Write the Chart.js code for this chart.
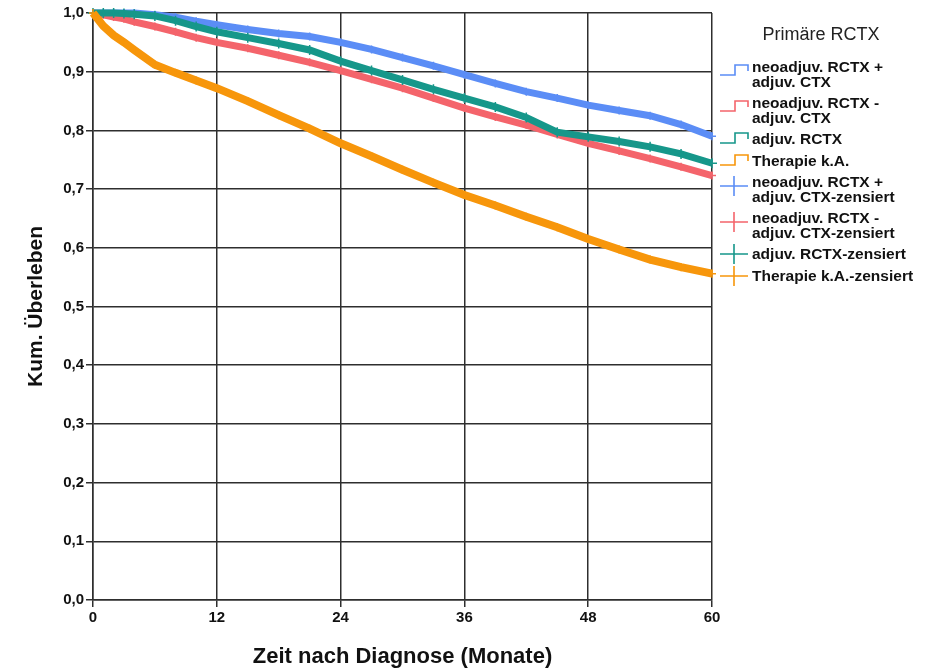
<!DOCTYPE html>
<html lang="de">
<head>
<meta charset="utf-8">
<title>Kum. Überleben nach Primäre RCTX</title>
<script src="https://cdn.jsdelivr.net/npm/chart.js@4.4.0/dist/chart.umd.min.js"></script>
<style>
  html,body{margin:0;padding:0;background:#fff;}
  #wrap{position:relative;width:935px;height:670px;}
  #legtitle{position:absolute;left:718px;top:24px;width:206px;text-align:center;
    font:18px "Liberation Sans",Arial,sans-serif;color:#222;line-height:20px;}
  #legend{position:absolute;left:718px;top:60px;width:217px;
    font:bold 15.5px "Liberation Sans",Arial,sans-serif;color:#111;}
  .item{position:relative;padding-left:34px;line-height:14.5px;margin-bottom:7px;white-space:pre;}
  .item svg{position:absolute;left:0;}
</style>
</head>
<body>
<div id="wrap">
  <canvas id="km"></canvas>
  <div id="legtitle">Primäre RCTX</div>
  <div id="legend"></div>
</div>
<script>
// Kaplan-Meier: kumulatives Überleben je Gruppe
const months   = [0,1,2,3,4,6,8,10,12,15,18,21,24,27,30,33,36,39,42,45,48,51,54,57,60];
const neoPlus  = [1,1,1,1,1,0.997,0.993,0.986,0.98,0.972,0.965,0.96,0.95,0.938,0.924,0.91,0.895,0.88,0.866,0.855,0.843,0.834,0.825,0.81,0.79];
const neoMinus = [1,0.997,0.993,0.99,0.985,0.977,0.968,0.958,0.95,0.94,0.928,0.916,0.902,0.887,0.872,0.855,0.838,0.823,0.809,0.793,0.778,0.765,0.752,0.738,0.723];
const adjRctx  = [1,1,1,0.999,0.998,0.995,0.987,0.977,0.968,0.958,0.948,0.937,0.918,0.902,0.886,0.87,0.855,0.84,0.822,0.797,0.789,0.781,0.772,0.76,0.744];
const keineAng = [1,0.978,0.962,0.95,0.937,0.912,0.898,0.885,0.872,0.85,0.826,0.803,0.778,0.756,0.733,0.711,0.69,0.672,0.653,0.635,0.615,0.597,0.58,0.567,0.556];

const groups = ["neoadjuv. RCTX +\nadjuv. CTX","neoadjuv. RCTX -\nadjuv. CTX","adjuv. RCTX","Therapie k.A."];
const colors = ["#5b8df6","#f4646b","#16978a","#f7960b"];
const series = [neoPlus, neoMinus, adjRctx, keineAng];

const xTicks = [0,12,24,36,48,60];
const FONT = '"Liberation Sans", Arial, sans-serif';
const INK = "#2e2e2e";

function pts(arr){ return months.map((m,i)=>({x:m, y:arr[i]})); }

// Kurven (unten -> oben: blau, rot, türkis, orange)
const curves = series.map((s,i)=>({
  label: groups[i].replace("\n"," "),
  data: pts(s),
  borderColor: colors[i],
  borderWidth: i===3 ? 8 : 7,
  pointRadius: 0,
  tension: 0,
  fill: false,
  clip: 10,
  order: 8-2*i
}));
// zensierte Fälle als Kreuze auf der Kurve
const censored = series.map((s,i)=>({
  label: groups[i].replace("\n"," ")+"-zensiert",
  data: pts(s),
  showLine: false,
  pointStyle: "cross",
  pointRadius: i===2 ? 5 : 4,
  pointBorderWidth: 1.5,
  pointBorderColor: colors[i],
  clip: 10,
  order: 7-2*i
}));

new Chart(document.getElementById("km"), {
  type: "line",
  data: {datasets: [...curves, ...censored]},
  options: {
    responsive: true,
    maintainAspectRatio: false,
    animation: false,
    layout: {padding: {top: 13, right: 223, left: 0, bottom: 0}},
    plugins: {legend: {display: false}, tooltip: {enabled: false}},
    scales: {
      x: {
        type: "linear", min: 0, max: 60,
        afterBuildTicks: sc => { sc.ticks = xTicks.map(v=>({value:v})); },
        afterFit: sc => { sc.height = 70; },
        ticks: {font: {family: FONT, size: 15, weight: "bold"}, color: "#111", padding: 2, maxRotation: 0},
        grid: {color: INK, lineWidth: 1.5, tickLength: 7, tickColor: INK},
        border: {color: INK, width: 1.5},
        title: {display: true, text: "Zeit nach Diagnose (Monate)", color: "#111",
                font: {family: FONT, size: 22, weight: "bold"}, padding: {top: 2, bottom: 0}}
      },
      y: {
        min: 0, max: 1,
        afterFit: sc => { sc.width = 93; },
        ticks: {stepSize: 0.1, font: {family: FONT, size: 15, weight: "bold"}, color: "#111", padding: 2,
                callback: v => v.toFixed(1).replace(".", ",")},
        grid: {color: INK, lineWidth: 1.5, tickLength: 7, tickColor: INK},
        border: {color: INK, width: 1.5},
        title: {display: true, text: "Kum. Überleben", color: "#111",
                font: {family: FONT, size: 21, weight: "bold"}, padding: {top: 24, bottom: 0}}
      }
    }
  }
});

// Legende rechts: Linien-Symbole + Zensiert-Kreuze
function stepIcon(c, top){
  return `<svg width="32" height="22" style="top:${top}px"><path d="M2 15 H17 V5 H30 V11" fill="none" stroke="${c}" stroke-width="1.6"/></svg>`;
}
function crossIcon(c, top){
  return `<svg width="32" height="22" style="top:${top}px"><path d="M2 11 H30 M16 1 V21" fill="none" stroke="${c}" stroke-width="1.6"/></svg>`;
}
let html = "";
groups.forEach((g,i)=>{
  const two = g.includes("\n");
  html += `<div class="item">${stepIcon(colors[i], two ? 0 : -4)}${g}</div>`;
});
groups.forEach((g,i)=>{
  const two = g.includes("\n");
  html += `<div class="item">${crossIcon(colors[i], two ? 0 : -4)}${g}-zensiert</div>`;
});
document.getElementById("legend").innerHTML = html;
</script>
</body>
</html>
